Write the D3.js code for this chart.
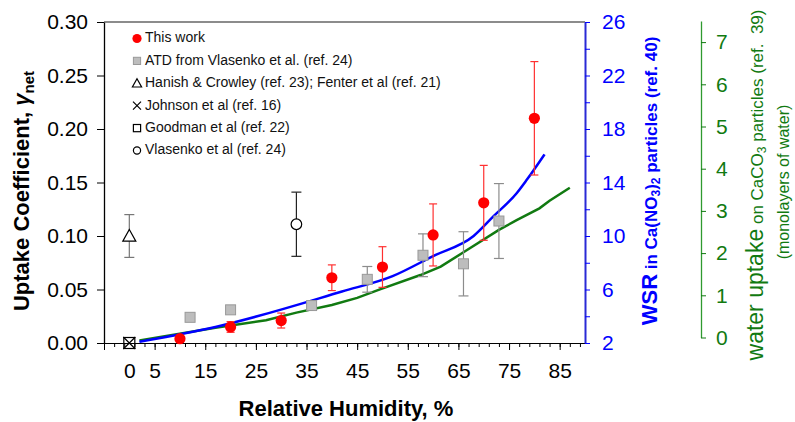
<!DOCTYPE html>
<html>
<head>
<meta charset="utf-8">
<script src="https://cdn.jsdelivr.net/npm/d3@7"></script>
<style>
  body { margin: 0; background: #fff; }
  svg { display: block; font-family: "Liberation Sans", Arial, sans-serif; }
</style>
</head>
<body>
<div id="chart"></div>
<script>
// this work (red dots)
const rhThis = [10, 20, 30, 40, 50, 60, 70, 80];
const gammaThis = [0.004, 0.015, 0.021, 0.061, 0.071, 0.101, 0.131, 0.210];
const errThis = [0.003, 0.005, 0.007, 0.012, 0.019, 0.029, 0.035, 0.053];

// ATD from Vlasenko (grey squares)
const rhAtd = [12, 20, 36, 47, 58, 66, 73];
const gammaAtd = [0.024, 0.031, 0.035, 0.0595, 0.082, 0.074, 0.114];
const errAtd = [0, 0, 0, 0.012, 0.020, 0.030, 0.035];

// literature single points
const rhHanish = [0], gammaHanish = [0.10], errHanish = [0.02];
const rhJohnson = [0], gammaJohnson = [0];
const rhGoodman = [0], gammaGoodman = [0];
const rhVlas = [33], gammaVlas = [0.111], errVlas = [0.03];

// WSR curve (blue, right axis)
const wsrRh = [2, 17, 42, 52, 60, 68, 72, 76.5, 78.5, 82];
const wsrVal = [2.1, 3.2, 5.85, 7.0, 8.5, 10.0, 11.5, 13.2, 14.2, 16.1];

// water uptake curve (green, far right axis)
const waterRh = [2, 17, 27, 33, 40, 45, 49.5, 57.5, 61.5, 66, 73, 76.5, 81, 83, 87];
const waterVal = [-0.07, 0.23, 0.41, 0.59, 0.77, 0.94, 1.14, 1.48, 1.68, 2.02, 2.55, 2.78, 3.06, 3.24, 3.55];

// tick values
const yTicks = [0, 0.05, 0.10, 0.15, 0.20, 0.25, 0.30];
const xLabelTicks = [0, 5, 15, 25, 35, 45, 55, 65, 75, 85];
const wsrTicks = [2, 6, 10, 14, 18, 22, 26];
const waterTicks = [0, 1, 2, 3, 4, 5, 6, 7];

const legendItems = [
  "This work",
  "ATD from Vlasenko et al. (ref. 24)",
  "Hanish & Crowley (ref. 23); Fenter et al (ref. 21)",
  "Johnson et al (ref. 16)",
  "Goodman et al (ref. 22)",
  "Vlasenko et al (ref. 24)"
];

const width = 795, height = 422;
const plotLeft = 104, plotRight = 585, plotTop = 22, plotBottom = 343;

const svg = d3.select("#chart").append("svg")
  .attr("width", width)
  .attr("height", height);

const x = d3.scaleLinear().domain([-5, 90]).range([plotLeft, plotRight]);
const y = d3.scaleLinear().domain([0, 0.30]).range([plotBottom, plotTop]);
const yW = d3.scaleLinear().domain([2, 26]).range([plotBottom, plotTop]);
const yG = d3.scaleLinear().domain([0, 7.5]).range([337.5, 21]);

const blue = "#0000ff", green = "#117a11";

function styleAxis(g, color, size) {
  g.selectAll("text").attr("font-size", size).attr("fill", color)
    .attr("font-family", "Liberation Sans, Arial, sans-serif");
  g.selectAll("line").attr("stroke", color);
  g.select(".domain").attr("stroke", color);
}

// top frame line
svg.append("line")
  .attr("x1", plotLeft).attr("x2", plotRight).attr("y1", plotTop).attr("y2", plotTop)
  .attr("stroke", "#666").attr("stroke-width", 1.6);

// x axis: minor ticks, major ticks, labels
const oddTicks = d3.range(-5, 90, 2);
svg.append("g").attr("transform", `translate(0,${plotBottom})`)
  .call(d3.axisBottom(x).tickValues(oddTicks).tickSize(4).tickSizeOuter(0).tickFormat(""))
  .call(g => styleAxis(g, "#000", 21));
svg.append("g").attr("transform", `translate(0,${plotBottom})`)
  .call(d3.axisBottom(x).tickValues(d3.range(-5, 90, 10)).tickSize(7).tickSizeOuter(0).tickFormat(""))
  .call(g => { styleAxis(g, "#000", 21); g.select(".domain").remove(); });
svg.append("g").attr("transform", `translate(0,${plotBottom})`)
  .call(d3.axisBottom(x).tickValues(xLabelTicks).tickSize(0).tickPadding(20).tickFormat(d3.format("d")))
  .call(g => { styleAxis(g, "#000", 21); g.select(".domain").remove(); });

// left axis
svg.append("g").attr("transform", `translate(${plotLeft},0)`)
  .call(d3.axisLeft(y).tickValues(yTicks).tickSize(7).tickSizeOuter(0).tickPadding(9).tickFormat(d3.format(".2f")))
  .call(g => styleAxis(g, "#000", 21))
  .call(g => g.select(".domain").attr("stroke-width", 1.3));

// WSR axis (blue)
svg.append("g").attr("transform", `translate(${plotRight},0)`)
  .call(d3.axisRight(yW).tickValues(d3.range(2, 27, 2)).tickSize(5).tickSizeOuter(0).tickPadding(12)
    .tickFormat(d => wsrTicks.includes(d) ? d : ""))
  .call(g => styleAxis(g, blue, 21))
  .call(g => g.select(".domain").attr("stroke", "#2a2ad6").attr("stroke-width", 2));

// water uptake axis (green)
svg.append("g").attr("transform", "translate(701,0)")
  .call(d3.axisRight(yG).tickValues(waterTicks).tickSize(5).tickSizeOuter(0).tickPadding(10))
  .call(g => styleAxis(g, green, 21))
  .call(g => g.select(".domain").attr("stroke", "#2f9a2f").attr("stroke-width", 1.3));

// curves
const line = (sy, curve) => d3.line().curve(curve).x(d => x(d[0])).y(d => sy(d[1]));
svg.append("path")
  .datum(d3.zip(waterRh, waterVal))
  .attr("d", line(yG, d3.curveLinear))
  .attr("fill", "none").attr("stroke", green).attr("stroke-width", 2.5);
svg.append("path")
  .datum(d3.zip(wsrRh, wsrVal))
  .attr("d", line(yW, d3.curveMonotoneX))
  .attr("fill", "none").attr("stroke", blue).attr("stroke-width", 2.5);

// error bars
function errorBars(xs, ys, es, color, cap) {
  const g = svg.append("g").attr("stroke", color).attr("stroke-width", 1.2);
  xs.forEach((v, i) => {
    if (!es[i]) return;
    const cx = x(v), y1 = y(ys[i] - es[i]), y2 = y(ys[i] + es[i]);
    g.append("line").attr("x1", cx).attr("x2", cx).attr("y1", y1).attr("y2", y2);
    g.append("line").attr("x1", cx - cap).attr("x2", cx + cap).attr("y1", y1).attr("y2", y1);
    g.append("line").attr("x1", cx - cap).attr("x2", cx + cap).attr("y1", y2).attr("y2", y2);
  });
}

errorBars(rhAtd, gammaAtd, errAtd, "#8c8c8c", 5);
errorBars(rhHanish, gammaHanish, errHanish, "#777", 5);
errorBars(rhVlas, gammaVlas, errVlas, "#222", 5);
errorBars(rhThis, gammaThis, errThis, "#ff3030", 4);

// marker drawers
const markers = {
  red: (g, cx, cy, s) => g.append("circle").attr("cx", cx).attr("cy", cy).attr("r", s)
    .attr("fill", "#ff0000"),
  grey: (g, cx, cy, s) => g.append("rect").attr("x", cx - s).attr("y", cy - s)
    .attr("width", 2 * s).attr("height", 2 * s)
    .attr("fill", "#bdbdbd").attr("stroke", "#999").attr("stroke-width", 1),
  tri: (g, cx, cy, s) => g.append("path")
    .attr("d", `M${cx},${cy - s}L${cx + s},${cy + s * 0.8}L${cx - s},${cy + s * 0.8}Z`)
    .attr("fill", "#fff").attr("stroke", "#000").attr("stroke-width", 1.2),
  cross: (g, cx, cy, s) => g.append("path")
    .attr("d", `M${cx - s},${cy - s}L${cx + s},${cy + s}M${cx - s},${cy + s}L${cx + s},${cy - s}`)
    .attr("fill", "none").attr("stroke", "#000").attr("stroke-width", 1.2),
  square: (g, cx, cy, s) => g.append("rect").attr("x", cx - s).attr("y", cy - s)
    .attr("width", 2 * s).attr("height", 2 * s)
    .attr("fill", "none").attr("stroke", "#000").attr("stroke-width", 1.2),
  circle: (g, cx, cy, s) => g.append("circle").attr("cx", cx).attr("cy", cy).attr("r", s)
    .attr("fill", "#fff").attr("stroke", "#000").attr("stroke-width", 1.2)
};

const pts = svg.append("g");
rhAtd.forEach((v, i) => markers.grey(pts, x(v), y(gammaAtd[i]), 5));
rhGoodman.forEach((v, i) => markers.square(pts, x(v), y(gammaGoodman[i]), 5.5));
rhJohnson.forEach((v, i) => markers.cross(pts, x(v), y(gammaJohnson[i]), 6));
rhHanish.forEach((v, i) => markers.tri(pts, x(v), y(gammaHanish[i]), 6.5));
rhVlas.forEach((v, i) => markers.circle(pts, x(v), y(gammaVlas[i]), 5.3));
rhThis.forEach((v, i) => markers.red(pts, x(v), y(gammaThis[i]), 5.6));

// legend
const legendKeys = ["red", "grey", "tri", "cross", "square", "circle"];
const legendSizes = [4.6, 3.6, 4.6, 4, 3.6, 3.6];
const lg = svg.append("g");
legendItems.forEach((label, i) => {
  const cy = 37.5 + i * 22.4;
  markers[legendKeys[i]](lg, 137, cy + 1, legendSizes[i]);
  lg.append("text").attr("x", 145).attr("y", cy).attr("dy", "0.35em")
    .attr("font-size", 14).attr("fill", "#111").text(label);
});

// axis titles
svg.append("text")
  .attr("x", 346).attr("y", 416)
  .attr("text-anchor", "middle").attr("font-size", 22).attr("font-weight", "bold")
  .text("Relative Humidity, %");

const ty = svg.append("text")
  .attr("transform", "translate(29,191) rotate(-90)")
  .attr("text-anchor", "middle").attr("font-size", 22).attr("font-weight", "bold");
ty.append("tspan").text("Uptake Coefficient, ");
ty.append("tspan").attr("font-style", "italic").text("\u03b3");
ty.append("tspan").attr("font-size", 15).attr("dy", 5).text("net");

const tw = svg.append("text")
  .attr("transform", "translate(657,181) rotate(-90)")
  .attr("text-anchor", "middle").attr("font-weight", "bold").attr("fill", blue);
tw.append("tspan").attr("font-size", 22).text("WSR");
tw.append("tspan").attr("font-size", 17).text(" in Ca(NO");
tw.append("tspan").attr("font-size", 12).attr("dy", 3).text("3");
tw.append("tspan").attr("font-size", 17).attr("dy", -3).text(")");
tw.append("tspan").attr("font-size", 12).attr("dy", 3).text("2");
tw.append("tspan").attr("font-size", 17).attr("dy", -3).text(" particles (ref. 40)");

const tg = svg.append("text")
  .attr("transform", "translate(763,185) rotate(-90)")
  .attr("text-anchor", "middle").attr("fill", green);
tg.append("tspan").attr("font-size", 23).text("water uptake");
tg.append("tspan").attr("font-size", 17).text(" on CaCO");
tg.append("tspan").attr("font-size", 12).attr("dy", 3).text("3");
tg.append("tspan").attr("font-size", 17).attr("dy", -3).text(" particles (ref.\u00a0 39)");

svg.append("text")
  .attr("transform", "translate(789,182) rotate(-90)")
  .attr("text-anchor", "middle").attr("fill", green).attr("font-size", 16)
  .text("(monolayers of water)");
</script>
</body>
</html>
